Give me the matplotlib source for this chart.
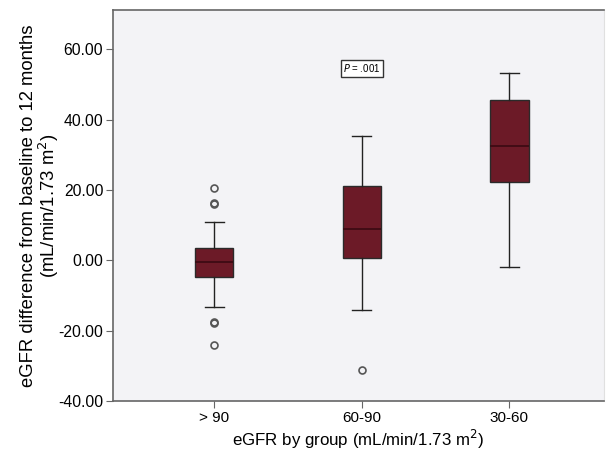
import matplotlib
matplotlib.use("Agg")
from matplotlib import pyplot as plt

plt.rcParams['font.family'] = ['Liberation Sans', 'DejaVu Sans']

# values
groups = ["> 90", "60-90", "30-60"]
q1 = [-4.75, 0.65, 22.3]
med = [-0.4, 8.8, 32.4]
q3 = [3.4, 21.05, 45.7]
whislo = [-13.3, -14.1, -1.9]
whishi = [11.0, 35.4, 53.4]
fliers = [[20.7, 16.1, 16.3, -17.5, -17.7, -24.2], [-31.1], []]
yticks = [-40, -20, 0, 20, 40, 60]

stats = []
for i, g in enumerate(groups):
    stats.append(dict(label=g, q1=q1[i], med=med[i], q3=q3[i],
                      whislo=whislo[i], whishi=whishi[i], fliers=fliers[i]))

fig = plt.figure(figsize=(6.06, 4.51), dpi=100)
ax = fig.add_axes([0.1865, 0.1109, 0.810, 0.8669])
ax.set_facecolor("#f3f3f6")

ax.bxp(stats, positions=[1, 2, 3], widths=0.26, patch_artist=True,
       boxprops=dict(facecolor="#6c1a27", edgecolor="#2a2a2a", linewidth=1.0),
       medianprops=dict(color="#3a0a12", linewidth=1.2),
       whiskerprops=dict(color="#222222", linewidth=1.0),
       capprops=dict(color="#222222", linewidth=1.0),
       capwidths=0.13,
       flierprops=dict(marker="o", markersize=5, markerfacecolor="none",
                       markeredgecolor="#555555", markeredgewidth=1.2))

ax.set_xlim(0.315, 3.64)
ax.set_ylim(-40, 71.2)
ax.set_yticks(yticks)
ax.set_yticklabels(["%.2f" % v for v in yticks], fontsize=11.3)
ax.set_xticks([1, 2, 3])
ax.set_xticklabels(groups, fontsize=11)

for side in ["left", "bottom", "top"]:
    ax.spines[side].set_color("#666666")
    ax.spines[side].set_linewidth(1.2)
ax.spines["right"].set_color("#e0e0e0")
ax.tick_params(colors="#666666", labelcolor="black", length=5, pad=2)

ax.set_xlabel("eGFR by group (mL/min/1.73 m$^2$)", fontsize=12.2, labelpad=2)
ax.set_ylabel("eGFR difference from baseline to 12 months\n(mL/min/1.73 m$^2$)",
              fontsize=13.3, labelpad=-2, linespacing=1.0)

ax.text(2, 54.6, "$P$ = .001", fontsize=7, ha="center", va="center",
        bbox=dict(boxstyle="square,pad=0.25", facecolor="white",
                  edgecolor="#333333", linewidth=1.0))

fig.savefig("out.png", dpi=100)
